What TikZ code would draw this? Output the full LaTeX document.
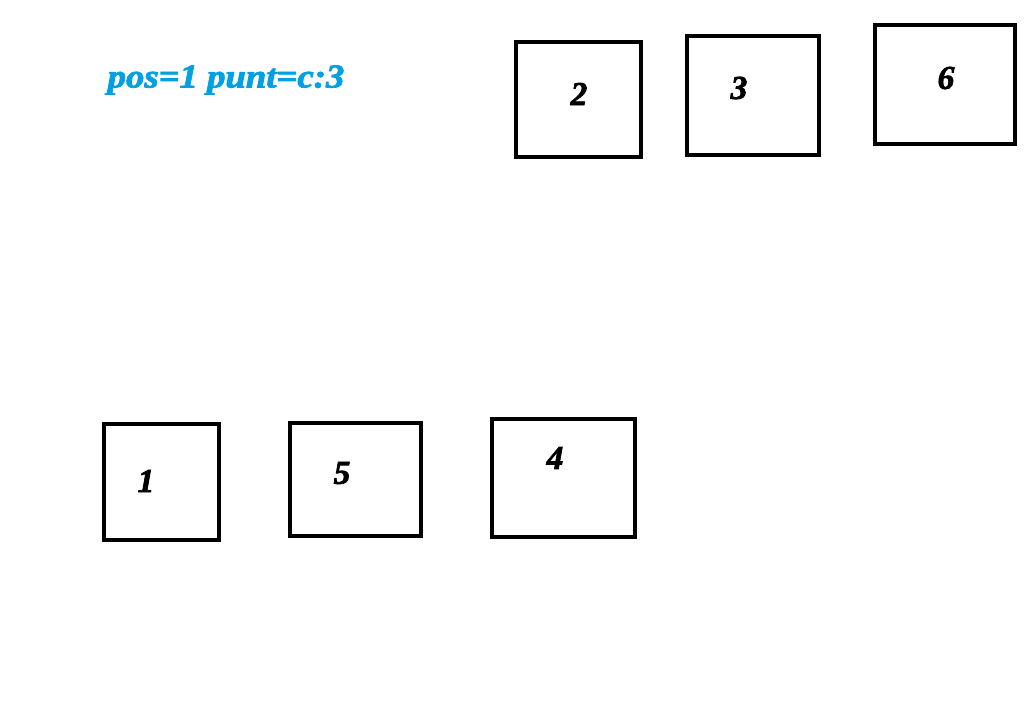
\documentclass[tikz,border=0pt]{standalone}
\usepackage{fontspec}
\setmainfont{Liberation Serif}
\newfontfamily\fatface[BoldItalicFeatures={FakeBold=2.2}]{Liberation Serif}
\definecolor{puntblue}{RGB}{0,160,227}
\tikzset{
  box/.style={line width=2.6pt},
  num/.style={font=\fatface\fontsize{19}{19}\selectfont\bfseries\itshape},
  title/.style={font=\fatface\fontsize{19}{19}\selectfont\bfseries\itshape, text=puntblue, xscale=1.1}
}
\begin{document}
\begin{tikzpicture}[x=0.02cm,y=-0.02cm]
\useasboundingbox (0,0) rectangle (1033,720);

\node[title] (t) at (226,80) {pos=1 punt=c:3};

\draw[box] (516,42) rectangle (641,157);
\node[num] (n2) at (579,94) {2};
\draw[box] (687,36) rectangle (819,155);
\node[num] (n3) at (739,88) {3};
\draw[box] (875,25) rectangle (1015,144);
\node[num] (n6) at (946,78) {6};

\draw[box] (104,424) rectangle (219,540);
\node[num] (n1) at (146,481) {1};
\draw[box] (290,423) rectangle (421,536);
\node[num] (n5) at (342,473) {5};
\draw[box] (492,419) rectangle (635,537);
\node[num] (n4) at (555,458) {4};

\end{tikzpicture}
\end{document}
